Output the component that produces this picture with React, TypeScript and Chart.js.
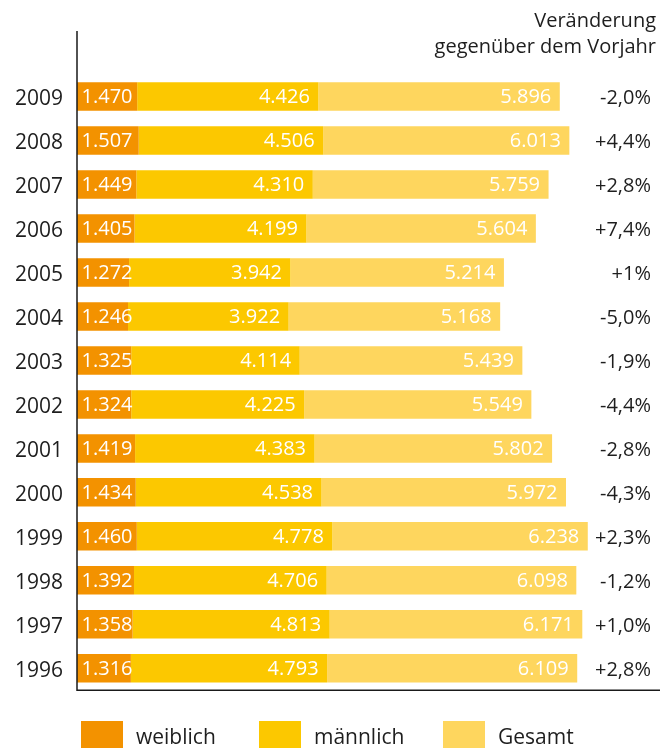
import React, { useEffect, useRef } from "react";
import { Chart, registerables } from "chart.js";

Chart.register(...registerables);

const years = ["2009", "2008", "2007", "2006", "2005", "2004", "2003", "2002", "2001", "2000", "1999", "1998", "1997", "1996"];
const weiblich = [1470, 1507, 1449, 1405, 1272, 1246, 1325, 1324, 1419, 1434, 1460, 1392, 1358, 1316];
const maennlich = [4426, 4506, 4310, 4199, 3942, 3922, 4114, 4225, 4383, 4538, 4778, 4706, 4813, 4793];
const gesamt = [5896, 6013, 5759, 5604, 5214, 5168, 5439, 5549, 5802, 5972, 6238, 6098, 6171, 6109];
const changes = ["-2,0%", "+4,4%", "+2,8%", "+7,4%", "+1%", "-5,0%", "-1,9%", "-4,4%", "-2,8%", "-4,3%", "+2,3%", "-1,2%", "+1,0%", "+2,8%"];
const seriesNames = ["weiblich", "männlich", "Gesamt"];
const colors = ["#F39200", "#FCC800", "#FED65E"];
const titleLines = ["Veränderung", "gegenüber dem Vorjahr"];

const FONT = "'Open Sans', sans-serif";
const TEXT = "#1e1e1e";

function fmt(v: number): string {
  const s = String(v);
  return s.length > 3 ? s.slice(0, s.length - 3) + "." + s.slice(s.length - 3) : s;
}

const overlayPlugin = {
  id: "overlay",
  afterDatasetsDraw(chart: any) {
    const ctx = chart.ctx;
    const area = chart.chartArea;
    ctx.save();
    // bar value labels
    ctx.font = `20px ${FONT}`;
    ctx.fillStyle = "#ffffff";
    ctx.textBaseline = "middle";
    chart.data.datasets.forEach((ds: any, di: number) => {
      const meta = chart.getDatasetMeta(di);
      meta.data.forEach((el: any, i: number) => {
        const v = ds.data[i];
        const y = el.y + 1;
        if (di === 0) {
          ctx.textAlign = "left";
          ctx.fillText(fmt(v), el.base + 4.5, y);
        } else {
          ctx.textAlign = "right";
          ctx.fillText(fmt(v), el.x - 8.5, y);
        }
      });
    });
    // change labels
    ctx.fillStyle = TEXT;
    ctx.textAlign = "right";
    const yScale = chart.scales.y;
    changes.forEach((c, i) => {
      ctx.fillText(c, 651, yScale.getPixelForValue(i) + 2);
    });
    // title
    ctx.font = `20px ${FONT}`;
    ctx.textBaseline = "alphabetic";
    ctx.fillText(titleLines[0], 656, 27);
    ctx.fillText(titleLines[1], 656, 53);
    // axis lines
    ctx.strokeStyle = "#1a1a1a";
    ctx.lineWidth = 1.5;
    ctx.beginPath();
    ctx.moveTo(area.left, 31);
    ctx.lineTo(area.left, area.bottom);
    ctx.lineTo(660, area.bottom);
    ctx.stroke();
    // legend
    const boxX = [81, 259, 443];
    const textX = [136, 314, 498];
    ctx.font = `21px ${FONT}`;
    ctx.textAlign = "left";
    ctx.textBaseline = "alphabetic";
    seriesNames.forEach((n, i) => {
      ctx.fillStyle = colors[i];
      ctx.fillRect(boxX[i], 721, 42, 30);
      ctx.fillStyle = TEXT;
      ctx.fillText(n, textX[i], 744);
    });
    ctx.restore();
  },
};

export default function App() {
  const ref = useRef<HTMLCanvasElement>(null);
  useEffect(() => {
    if (!ref.current) return;
    const chart = new Chart(ref.current, {
      type: "bar",
      data: {
        labels: years,
        datasets: [
          { label: seriesNames[0], data: weiblich, backgroundColor: colors[0], borderWidth: 0 },
          { label: seriesNames[1], data: maennlich, backgroundColor: colors[1], borderWidth: 0 },
          { label: seriesNames[2], data: gesamt, backgroundColor: colors[2], borderWidth: 0 },
        ],
      },
      options: {
        indexAxis: "y",
        responsive: false,
        animation: false,
        layout: { padding: { top: 74.5, bottom: 57.7, left: 0, right: 12 } },
        datasets: { bar: { barPercentage: 1, categoryPercentage: 0.648 } },
        plugins: { legend: { display: false }, tooltip: { enabled: false } },
        scales: {
          x: { stacked: true, display: false, min: 0, max: 14240 },
          y: {
            stacked: true,
            afterFit: (s: any) => { s.width = 77; },
            grid: { display: false, drawTicks: false },
            border: { display: false },
            ticks: { color: TEXT, font: { family: "'Open Sans', sans-serif", size: 21 }, padding: 14, labelOffset: 2.5 },
          },
        },
      },
      plugins: [overlayPlugin],
    } as any);
    return () => chart.destroy();
  }, []);
  return (
    <div style={{ position: "fixed", left: 0, top: 0, width: 672, height: 748, background: "#fff" }}>
      <canvas ref={ref} width={672} height={748} style={{ display: "block" }} />
    </div>
  );
}
